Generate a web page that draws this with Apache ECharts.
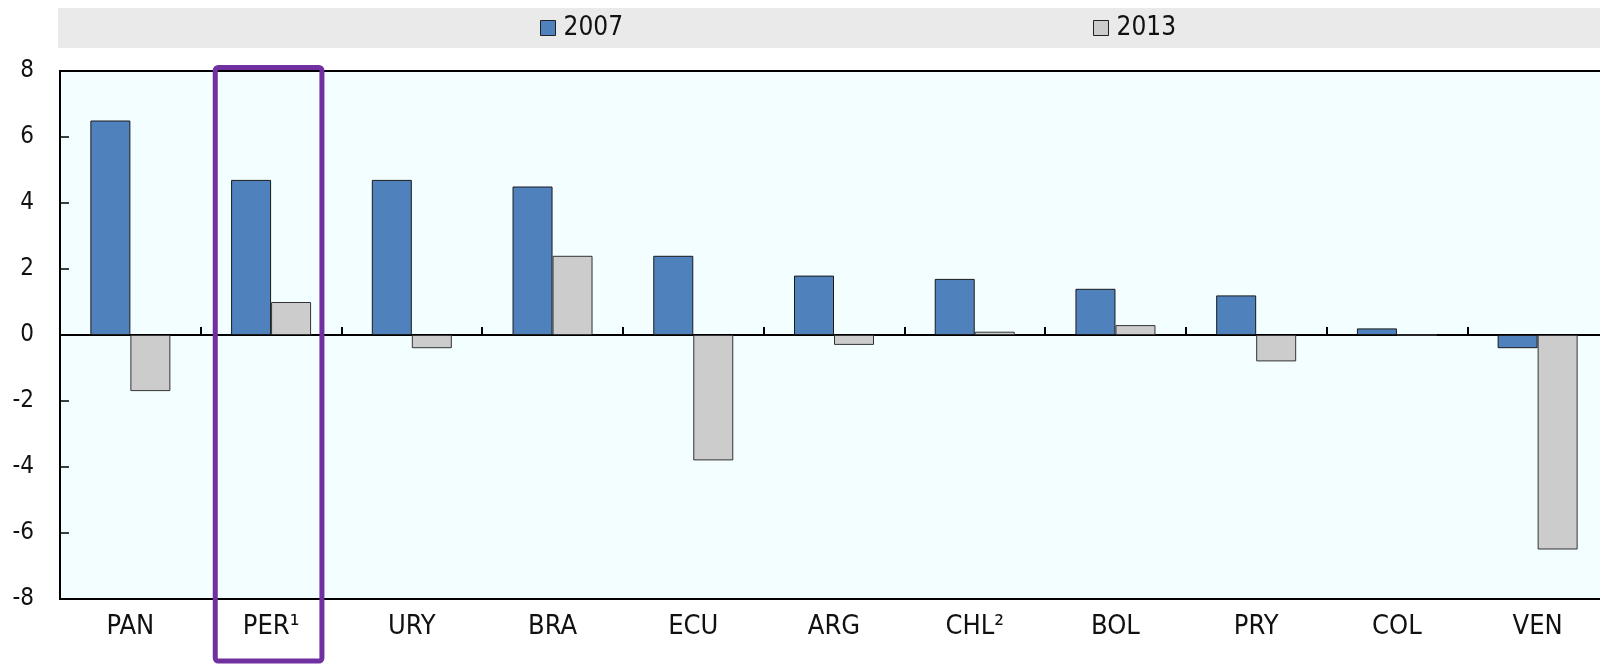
<!DOCTYPE html>
<html>
<head>
<meta charset="utf-8">
<script src="https://cdn.jsdelivr.net/npm/echarts@6/dist/echarts.min.js"></script>
<style>
html,body{margin:0;padding:0;background:#fff;}
#chart{width:1600px;height:666px;}
</style>
</head>
<body>
<div id="chart"></div>
<script>
const categories = ['PAN', 'PER¹', 'URY', 'BRA', 'ECU', 'ARG', 'CHL²', 'BOL', 'PRY', 'COL', 'VEN'];
const values2007 = [6.5, 4.7, 4.7, 4.5, 2.4, 1.8, 1.7, 1.4, 1.2, 0.2, -0.4];
const values2013 = [-1.7, 1.0, -0.4, 2.4, -3.8, -0.3, 0.1, 0.3, -0.8, 0, -6.5];
const yTicks = { min: -8, max: 8, interval: 2 };
const highlighted = 'PER¹';

const FONT = "'Liberation Sans Narrow', 'Arial Narrow', 'DejaVu Sans Condensed', sans-serif";
const chart = echarts.init(document.getElementById('chart'));

const legendBase = {
  top: 14, padding: 0, itemWidth: 15, itemHeight: 15, icon: 'rect',
  itemStyle: { borderColor: '#222', borderWidth: 1 },
  textStyle: { fontFamily: FONT, fontSize: 26, lineHeight: 28, color: '#111', padding: [0, 0, 0, 3] },
  selectedMode: false
};

const bandRect = {
  type: 'rect', z: -10, silent: true,
  shape: { x: 58, y: 8, width: 1542, height: 40 },
  style: { fill: '#EAEAEA' }
};

chart.setOption({
  animation: false,
  backgroundColor: '#fff',
  graphic: [bandRect],
  legend: [
    Object.assign({}, legendBase, { data: ['2007'], left: 540 }),
    Object.assign({}, legendBase, { data: ['2013'], left: 1093 })
  ],
  grid: {
    left: 60, top: 71, width: 1548, height: 528,
    outerBoundsMode: 'none', containLabel: false,
    show: true, backgroundColor: '#F2FEFF', borderColor: '#000', borderWidth: 2
  },
  xAxis: [{
    type: 'category', data: categories, position: 'bottom',
    axisLine: { onZero: false, lineStyle: { color: '#000', width: 2 } },
    axisTick: { show: false },
    axisLabel: { fontFamily: FONT, fontSize: 27, color: '#111', margin: 14 }
  }, {
    type: 'category', data: categories, position: 'bottom', gridIndex: 0,
    axisLine: { onZero: true, onZeroAxisIndex: 0, lineStyle: { color: '#000', width: 2 } },
    axisTick: { show: true, inside: true, length: 8, lineStyle: { color: '#000', width: 2 } },
    axisLabel: { show: false }
  }],
  yAxis: {
    type: 'value', min: yTicks.min, max: yTicks.max, interval: yTicks.interval,
    axisLine: { show: true, lineStyle: { color: '#000', width: 2 } },
    axisTick: { show: true, inside: true, length: 9, lineStyle: { color: '#000', width: 1.5 } },
    splitLine: { show: false },
    axisLabel: { fontFamily: FONT, fontSize: 24, color: '#111', margin: 26 }
  },
  series: [{
    name: '2007', type: 'bar', data: values2007, xAxisIndex: 0,
    barWidth: 40, barGap: '0%',
    itemStyle: { color: '#4F81BD', borderColor: '#1a1a1a', borderWidth: 1 }
  }, {
    name: '2013', type: 'bar', data: values2013, xAxisIndex: 0,
    barWidth: 40, barGap: '0%',
    itemStyle: { color: '#CCCCCC', borderColor: '#333', borderWidth: 1 }
  }]
});

// Highlight frame around the highlighted category, positioned from the axis scales
const idx = categories.indexOf(highlighted);
const xc = chart.convertToPixel({ xAxisIndex: 0 }, categories[idx]);
const band = chart.convertToPixel({ xAxisIndex: 0 }, categories[idx + 1]) - xc;
const yTop = chart.convertToPixel({ yAxisIndex: 0 }, yTicks.max);
const w = band * 0.758;
chart.setOption({
  graphic: [bandRect, {
    type: 'rect', z: 100, silent: true,
    shape: { x: xc - w / 2 - 2.5, y: yTop - 3.5, width: w, height: 661 - (yTop - 3.5), r: 3 },
    style: { fill: 'none', stroke: '#7030A0', lineWidth: 5 }
  }]
});
</script>
</body>
</html>
